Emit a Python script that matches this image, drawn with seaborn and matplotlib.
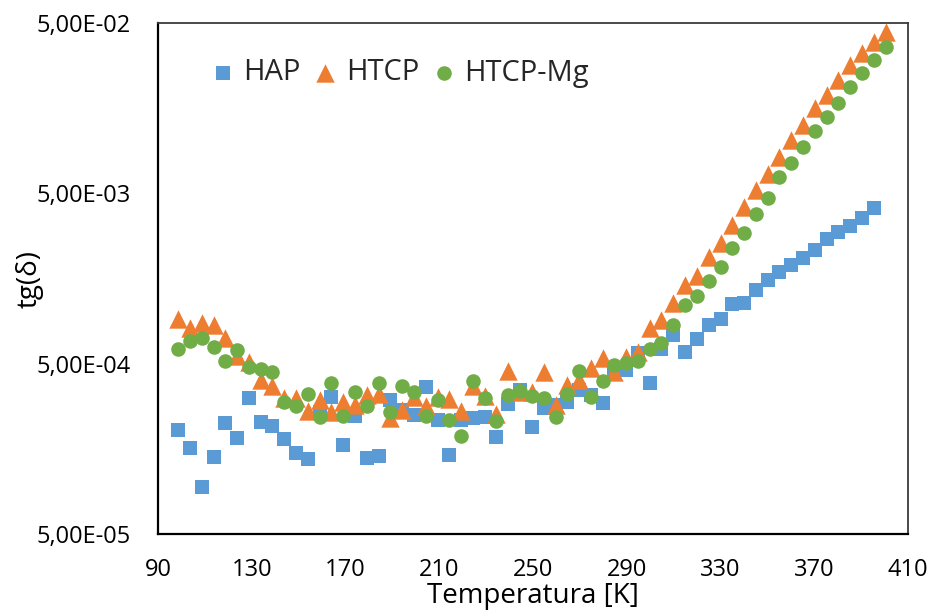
import matplotlib
matplotlib.use("Agg")
import matplotlib.pyplot as plt
import seaborn as sns
from matplotlib.ticker import FixedLocator, MultipleLocator, NullFormatter

# ---------------- data ----------------
temperature = [98.6, 103.6, 108.7, 113.7, 118.7, 123.8, 128.8, 133.8, 138.8, 143.9,
               148.9, 153.9, 159.0, 164.0, 169.0, 174.1, 179.1, 184.1, 189.1, 194.2,
               199.2, 204.2, 209.3, 214.3, 219.3, 224.4, 229.4, 234.4, 239.4, 244.5,
               249.5, 254.5, 259.6, 264.6, 269.6, 274.7, 279.7, 284.7, 289.7, 294.8,
               299.8, 304.8, 309.9, 314.9, 319.9, 325.0, 330.0, 335.0, 340.0, 345.1,
               350.1, 355.1, 360.2, 365.2, 370.2, 375.3, 380.3, 385.3, 390.3, 395.4,
               400.4]

hap = [2.03e-4, 1.59e-4, 9.5e-5, 1.41e-4, 2.24e-4, 1.83e-4, 3.13e-4, 2.28e-4, 2.15e-4, 1.80e-4,
       1.49e-4, 1.37e-4, 2.59e-4, 3.18e-4, 1.66e-4, 2.46e-4, 1.39e-4, 1.43e-4, 3.05e-4, 2.66e-4,
       2.49e-4, 3.64e-4, 2.33e-4, 1.45e-4, 2.33e-4, 2.39e-4, 2.43e-4, 1.85e-4, 2.89e-4, 3.49e-4,
       2.12e-4, 2.74e-4, 2.85e-4, 2.97e-4, 3.49e-4, 3.27e-4, 2.93e-4, 4.58e-4, 4.58e-4, 5.77e-4,
       3.84e-4, 6.09e-4, 7.35e-4, 5.84e-4, 6.97e-4, 8.42e-4, 9.13e-4, 1.12e-3, 1.13e-3, 1.35e-3,
       1.55e-3, 1.72e-3, 1.90e-3, 2.08e-3, 2.32e-3, 2.69e-3, 2.96e-3, 3.21e-3, 3.58e-3, 4.10e-3]

htcp = [9.13e-4, 8.08e-4, 8.65e-4, 8.42e-4, 7.06e-4, 5.53e-4, 5.10e-4, 4.00e-4, 3.69e-4, 3.13e-4,
        3.13e-4, 2.63e-4, 3.05e-4, 2.59e-4, 2.97e-4, 2.85e-4, 3.27e-4, 3.31e-4, 2.39e-4, 2.66e-4,
        3.18e-4, 2.81e-4, 3.18e-4, 3.09e-4, 2.63e-4, 3.69e-4, 3.22e-4, 2.52e-4, 4.52e-4, 3.40e-4,
        3.40e-4, 4.46e-4, 2.85e-4, 3.74e-4, 4.00e-4, 4.70e-4, 5.39e-4, 4.46e-4, 5.46e-4, 5.84e-4,
        8.08e-4, 9.01e-4, 1.13e-3, 1.45e-3, 1.63e-3, 2.11e-3, 2.55e-3, 3.26e-3, 4.15e-3, 5.23e-3,
        6.49e-3, 8.17e-3, 1.03e-2, 1.26e-2, 1.59e-2, 1.89e-2, 2.32e-2, 2.84e-2, 3.34e-2, 3.87e-2,
        4.43e-2]

htcp_mg = [6.09e-4, 6.78e-4, 7.06e-4, 6.25e-4, 5.17e-4, 6.00e-4, 4.77e-4, 4.64e-4, 4.46e-4, 2.97e-4,
           2.81e-4, 3.31e-4, 2.43e-4, 3.84e-4, 2.46e-4, 3.40e-4, 2.81e-4, 3.84e-4, 2.59e-4, 3.69e-4,
           3.40e-4, 2.46e-4, 3.05e-4, 2.33e-4, 1.87e-4, 3.95e-4, 3.13e-4, 2.30e-4, 3.27e-4, 3.45e-4,
           3.22e-4, 3.13e-4, 2.43e-4, 3.31e-4, 4.52e-4, 3.18e-4, 3.95e-4, 4.90e-4, 5.03e-4, 5.17e-4,
           6.09e-4, 6.60e-4, 8.42e-4, 1.10e-3, 1.25e-3, 1.53e-3, 1.84e-3, 2.39e-3, 2.92e-3, 3.78e-3,
           4.69e-3, 6.23e-3, 7.53e-3, 9.35e-3, 1.16e-2, 1.40e-2, 1.70e-2, 2.11e-2, 2.55e-2, 3.04e-2,
           3.62e-2]

series_labels = ["HAP", "HTCP", "HTCP-Mg"]
x_ticks = [90, 130, 170, 210, 250, 290, 330, 370, 410]
y_ticks = [5e-5, 5e-4, 5e-3, 5e-2]
y_tick_labels = ["5,00E-05", "5,00E-04", "5,00E-03", "5,00E-02"]
x_label = "Temperatura [K]"
y_label = "tg(δ)"

# ---------------- style ----------------
sns.set_style("white")
plt.rcParams["font.family"] = ["Open Sans", "DejaVu Sans"]

C_BLUE = "#5B9BD5"
C_ORANGE = "#ED7D31"
C_GREEN = "#70AD47"

W, H = 932, 615
fig = plt.figure(figsize=(W / 100, H / 100), dpi=100)
ax = fig.add_axes([158 / W, 81 / H, 750 / W, 511 / H])

sns.scatterplot(x=temperature[:len(hap)], y=hap, marker="s", s=112, color=C_BLUE,
                linewidth=0, label=series_labels[0], ax=ax, zorder=3)
sns.scatterplot(x=temperature[:len(htcp)], y=htcp, marker="^", s=175, color=C_ORANGE,
                linewidth=0, label=series_labels[1], ax=ax, zorder=4)
sns.scatterplot(x=temperature[:len(htcp_mg)], y=htcp_mg, marker="o", s=110, color=C_GREEN,
                linewidth=0, label=series_labels[2], ax=ax, zorder=5)

ax.set_yscale("log")
ax.set_xlim(90, 410)
ax.set_ylim(5e-5, 5e-2)

ax.xaxis.set_major_locator(FixedLocator(x_ticks))
ax.set_xticklabels([str(t) for t in x_ticks])
ax.xaxis.set_minor_locator(MultipleLocator(8))
ax.yaxis.set_major_locator(FixedLocator(y_ticks))
ax.set_yticklabels(y_tick_labels)
ax.yaxis.set_minor_locator(FixedLocator([b * k for b in (5e-5, 5e-4, 5e-3) for k in range(2, 10)]))
ax.yaxis.set_minor_formatter(NullFormatter())

ax.tick_params(axis="both", which="major", direction="inout", length=13, width=1.4,
               labelsize=17, color="black", labelcolor="black")
ax.tick_params(axis="x", which="major", pad=11)
ax.tick_params(axis="y", which="major", pad=13)
ax.tick_params(axis="both", which="minor", direction="in", length=5, width=1.2, color="black")
ax.tick_params(top=False, right=False, which="both")

for side in ("left", "bottom"):
    ax.spines[side].set_linewidth(1.6)
    ax.spines[side].set_color("black")
for side in ("top", "right"):
    ax.spines[side].set_linewidth(1.3)
    ax.spines[side].set_color("#3a3a3a")

ax.set_xlabel(x_label, fontsize=20, labelpad=0, color="black")
ax.set_ylabel(y_label, fontsize=20, color="black")
ax.yaxis.set_label_coords(-0.153, 0.5)

ax.legend(ncol=3, loc="center left", bbox_to_anchor=(211 / W, 1 - 73 / H),
          bbox_transform=fig.transFigure, frameon=False, fontsize=21,
          handlelength=0.8, handletextpad=0.3, columnspacing=0.45,
          borderpad=0, borderaxespad=0)

fig.savefig("out.png", dpi=100)
